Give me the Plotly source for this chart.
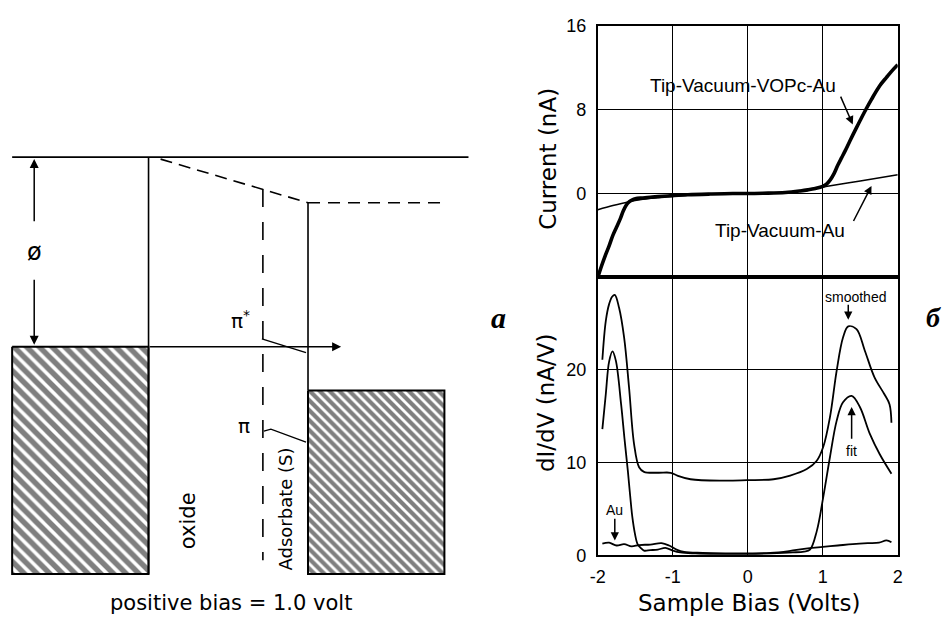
import plotly.graph_objects as go

# Figure size requested; the photographed page adds an 8 px body margin and is then
# scaled back to the window, so positions below are given in final-picture pixels and
# converted through that mapping.
W, H = 947, 623
M = 8
SX = W / (W + 2 * M)
SY = H / (H + 2 * M)


def px(x):
    return (x / SX - M) / W


def py(y):
    return 1 - (y / SY - M) / H


# ---------------- Panel б, top: I(V) ----------------
bias_vopc = [-2.0, -1.95, -1.9, -1.85, -1.8, -1.75, -1.7, -1.66, -1.62, -1.58, -1.54, -1.5, -1.4,
             -1.3, -1.2, -1.0, -0.8, -0.5, -0.2, 0.0, 0.2, 0.5, 0.7, 0.8, 0.9, 1.0, 1.05, 1.1,
             1.15, 1.2, 1.25, 1.3, 1.36, 1.45, 1.5, 1.58, 1.65, 1.76, 1.85, 1.92, 2.0]
current_vopc = [-8.0, -6.9, -5.9, -5.0, -4.0, -3.2, -2.4, -1.65, -1.1, -0.78, -0.6, -0.5, -0.42,
                -0.35, -0.3, -0.2, -0.12, -0.05, 0.0, 0.0, 0.03, 0.1, 0.25, 0.35, 0.48, 0.68, 0.9, 1.3,
                1.9, 2.7, 3.4, 4.1, 5.0, 6.3, 7.0, 8.1, 9.0, 10.3, 11.1, 11.7, 12.3]

bias_au_iv = [-2.0, -1.8, -1.6, -1.4, -1.2, -1.0, -0.5, 0.0, 0.5, 0.7, 1.0, 1.5, 2.0]
current_au_iv = [-1.55, -1.15, -0.8, -0.55, -0.38, -0.25, -0.08, 0.0, 0.12, 0.28, 0.62, 1.2, 1.8]

# ---------------- Panel б, bottom: dI/dV ----------------
bias_smoothed = [-1.94, -1.894, -1.85, -1.81, -1.774, -1.717, -1.65, -1.584, -1.517, -1.45, -1.385,
                 -1.2, -1.03, -0.94, -0.764, -0.32, -0.01, 0.343, 0.565, 0.787, 0.92, 1.007, 1.096,
                 1.185, 1.27, 1.34, 1.45, 1.56, 1.69, 1.82, 1.89, 1.916]
didv_smoothed = [21.1, 25.3, 27.1, 27.9, 28.1, 26.7, 23.5, 18.1, 12.0, 9.5, 9.0,
                 8.9, 8.9, 8.6, 8.2, 8.05, 8.1, 8.2, 8.6, 9.3, 10.2, 11.7, 14.9,
                 19.9, 23.5, 24.7, 24.4, 22.1, 19.2, 17.4, 16.3, 14.3]

bias_fit = [-1.94, -1.894, -1.85, -1.805, -1.76, -1.69, -1.645, -1.6, -1.57, -1.54, -1.505,
            -1.47, -1.43, -1.385, -1.3, -1.2, -1.1, -1.0, -0.9, -0.7, -0.4, 0.0, 0.3, 0.6, 0.75,
            0.83, 0.92, 1.007, 1.096, 1.185, 1.27, 1.385, 1.495, 1.628, 1.76, 1.916]
didv_fit = [13.6, 17.4, 20.9, 22.0, 21.0, 16.3, 12.6, 9.1, 6.5, 4.1, 2.3,
            1.2, 0.8, 0.5, 0.55, 0.6, 0.8, 0.5, 0.3, 0.2, 0.15, 0.15, 0.2, 0.3, 0.4,
            0.6, 2.6, 6.3, 10.6, 14.5, 16.5, 17.2, 16.0, 13.1, 10.9, 8.8]

bias_au_didv = [-1.94, -1.85, -1.75, -1.65, -1.55, -1.45, -1.3, -1.15, -1.05, -0.95, -0.85,
                -0.6, -0.3, 0.0, 0.3, 0.55, 0.8, 1.0, 1.2, 1.4, 1.6, 1.75, 1.85, 1.916]
didv_au = [1.25, 1.35, 1.05, 1.2, 0.95, 1.1, 1.15, 1.3, 1.05, 0.6, 0.35,
           0.25, 0.2, 0.2, 0.25, 0.45, 0.75, 0.9, 1.05, 1.2, 1.3, 1.35, 1.6, 1.4]

# ---------------- ticks ----------------
x_tickvals = [-2, -1, 0, 1, 2]
x_ticktext = ["-2", "-1", "0", "1", "2"]
iv_tickvals = [-8, 0, 8, 16]
iv_ticktext = [" ", "0", "8", "16"]
didv_tickvals = [0, 10, 20, 30]
didv_ticktext = ["0", "10", "20", " "]

# ---------------- Panel a: energy diagram (diagram units = picture pixels) ----------------
vacuum_level = 156
left_metal = dict(x0=12, x1=148, top=347, bottom=576)
right_metal = dict(x0=307, x1=443, top=391, bottom=576)
vacuum_line_x = [12, 467]
oxide_x = 148
adsorbate_x = 262
adsorbate_bottom = 562
barrier_x = [160, 262, 307, 440]
barrier_y = [158, 188, 202, 202]
fermi_arrow_end = 340
phi_x = 34
pi_star_leader_x = [261, 305]
pi_star_leader_y = [339, 353]
pi_leader_x = [263, 270, 305]
pi_leader_y = [432, 430, 443]

BLACK = "black"
fig = go.Figure()

# --- I(V) traces
fig.add_trace(go.Scatter(x=bias_au_iv, y=current_au_iv, mode="lines",
                         line=dict(color=BLACK, width=1.5), xaxis="x", yaxis="y",
                         line_shape="spline"))
fig.add_trace(go.Scatter(x=bias_vopc, y=current_vopc, mode="lines",
                         line=dict(color=BLACK, width=3.6), xaxis="x", yaxis="y",
                         line_shape="spline"))

# --- dI/dV traces
for bx, by in [(bias_smoothed, didv_smoothed), (bias_fit, didv_fit), (bias_au_didv, didv_au)]:
    fig.add_trace(go.Scatter(x=bx, y=by, mode="lines", line=dict(color=BLACK, width=1.8),
                             xaxis="x2", yaxis="y2", line_shape="spline"))


# --- diagram
def dline(xs, ys, width=1.6, dash="solid"):
    fig.add_trace(go.Scatter(x=xs, y=ys, mode="lines", line=dict(color=BLACK, width=width, dash=dash),
                             xaxis="x3", yaxis="y3"))


def hatched(r, size):
    fig.add_trace(go.Scatter(x=[r["x0"], r["x1"], r["x1"], r["x0"], r["x0"]],
                             y=[r["top"], r["top"], r["bottom"], r["bottom"], r["top"]],
                             mode="lines", fill="toself", fillcolor="white",
                             fillpattern=dict(shape="\\", fgcolor=BLACK, bgcolor="white",
                                              size=size, solidity=0.6),
                             line=dict(color=BLACK, width=2), xaxis="x3", yaxis="y3"))


hatched(left_metal, 9)
hatched(right_metal, 7)
dline(vacuum_line_x, [vacuum_level, vacuum_level])
dline([oxide_x, oxide_x], [vacuum_level, left_metal["bottom"]])
dline([right_metal["x0"], right_metal["x0"]], [barrier_y[2], right_metal["top"]])
dline(barrier_x[:3], barrier_y[:3], dash="12px,7px")
dline(barrier_x[2:], barrier_y[2:], dash="12px,8px")
dline([adsorbate_x, adsorbate_x], [barrier_y[1], adsorbate_bottom], dash="18px,15px")
dline(pi_star_leader_x, pi_star_leader_y, width=1.4)
dline(pi_leader_x, pi_leader_y, width=1.4)

annotations = []


def arrow(x, y, ax, ay, xref, yref, width=1.5, head=2, size=1.2):
    annotations.append(dict(x=x, y=y, ax=ax, ay=ay, xref=xref, yref=yref, axref=xref, ayref=yref,
                            text="", showarrow=True, arrowhead=head, arrowsize=size,
                            arrowwidth=width, arrowcolor=BLACK))


def label(x, y, text, xref, yref, size, family="Liberation Sans", angle=0, **kw):
    annotations.append(dict(x=x, y=y, xref=xref, yref=yref, text=text, showarrow=False,
                            xanchor="center", yanchor="middle",
                            textangle=angle, font=dict(family=family, size=size, color=BLACK), **kw))


# diagram arrows & labels
arrow(fermi_arrow_end, left_metal["top"], oxide_x, left_metal["top"], "x3", "y3")
arrow(phi_x, vacuum_level + 2, phi_x, 222, "x3", "y3")
arrow(phi_x, left_metal["top"] - 2, phi_x, 278, "x3", "y3")
DF = "DejaVu Sans"
label(phi_x, 252, "ø", "x3", "y3", 24, DF)
label(240, 320, "π<sup>*</sup>", "x3", "y3", 20, DF)
label(243, 427, "π", "x3", "y3", 20, DF)
label(188, 522, "oxide", "x3", "y3", 21, DF, angle=-90)
label(285, 510, "Adsorbate (S)", "x3", "y3", 18, DF, angle=-90)
label(230, 605, "positive bias = 1.0 volt", "x3", "y3", 21, DF)

# panel letters
label(497, 318, "<b><i>a</i></b>", "x3", "y3", 30, "Liberation Serif")
label(931, 318, "<b><i>б</i></b>", "x3", "y3", 28, "Liberation Serif")

# axis titles
TF = "DejaVu Sans"
label(546, 158, "Current (nA)", "x3", "y3", 23, TF, angle=-90)
label(545, 403, "dI/dV (nA/V)", "x3", "y3", 23, TF, angle=-90)
label(747, 605, "Sample Bias (Volts)", "x3", "y3", 23, TF)

# I(V) annotations
label(-0.07, 10.3, "Tip-Vacuum-VOPc-Au", "x", "y", 19)
arrow(1.40, 6.6, 1.23, 9.4, "x", "y", width=1.5, head=2, size=1.1)
label(0.43, -3.56, "Tip-Vacuum-Au", "x", "y", 19)
arrow(1.65, 0.73, 1.40, -2.77, "x", "y", width=1.5, head=2, size=1.1)

# dI/dV annotations
label(1.43, 27.85, "smoothed", "x2", "y2", 14)
arrow(1.34, 25.4, 1.34, 27.2, "x2", "y2", width=1.5, head=2, size=1.1)
label(1.385, 11.3, "fit", "x2", "y2", 14)
arrow(1.385, 16.0, 1.385, 12.4, "x2", "y2", width=1.5, head=2, size=1.1)
label(-1.774, 4.85, "Au", "x2", "y2", 14)
arrow(-1.774, 1.6, -1.774, 4.1, "x2", "y2", width=1.5, head=2, size=1.1)

xdom = [px(596), px(895)]
top_dom = [py(277), py(24)]
bot_dom = [py(557), py(277)]
tickfont = dict(family="Liberation Sans", size=18, color=BLACK)
common = dict(showline=True, mirror=True, linecolor=BLACK, linewidth=2, showgrid=True,
              gridcolor=BLACK, gridwidth=1.3, zeroline=False, ticks="", tickfont=tickfont)

fig.update_layout(
    width=W, height=H, autosize=False, margin=dict(l=0, r=0, t=0, b=0, pad=0),
    paper_bgcolor="white", plot_bgcolor="rgba(0,0,0,0)", showlegend=False,
    xaxis=dict(domain=xdom, range=[-2, 2], anchor="y", tickvals=x_tickvals,
               showticklabels=False, **common),
    yaxis=dict(domain=top_dom, range=[-8, 16], anchor="x", tickvals=iv_tickvals,
               ticktext=iv_ticktext, ticklabelstandoff=6, **common),
    xaxis2=dict(domain=xdom, range=[-2, 2], anchor="y2", tickvals=x_tickvals,
                ticktext=x_ticktext, ticklabelstandoff=4, **common),
    yaxis2=dict(domain=bot_dom, range=[0, 30], anchor="x2", tickvals=didv_tickvals,
                ticktext=didv_ticktext, ticklabelstandoff=6, **common),
    # picture-pixel coordinate system spanning the whole figure (for the diagram and labels)
    xaxis3=dict(domain=[0, 1], range=[M * SX, (W + M) * SX], visible=False, anchor="y3"),
    yaxis3=dict(domain=[0, 1], range=[(H + M) * SY, M * SY], visible=False, anchor="x3"),
    annotations=annotations,
)

fig.write_html("out.html")
